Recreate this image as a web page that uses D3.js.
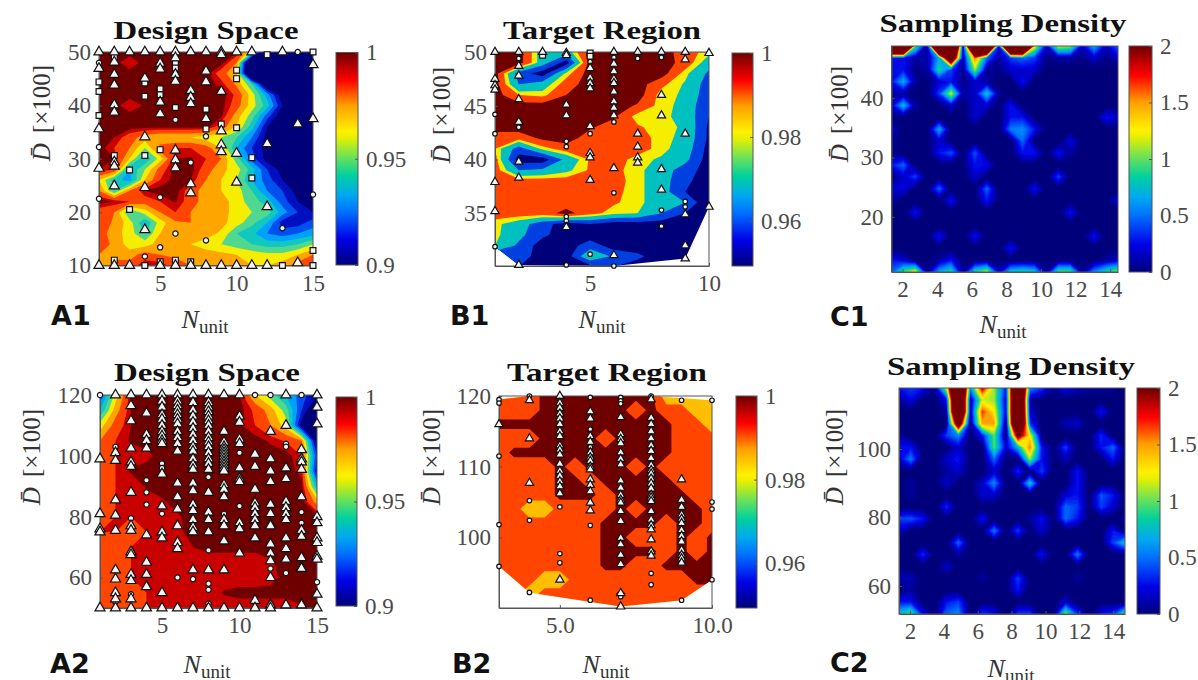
<!DOCTYPE html>
<html>
<head>
<meta charset="utf-8">
<script src="https://cdn.jsdelivr.net/npm/d3@7"></script>
<style>
  html, body { margin: 0; background: #fff; }
  text { font-family: "Liberation Serif", serif; }
</style>
</head>
<body>
<svg id="chart" width="1198" height="680"></svg>
<script>
// sampled fields, rows run from the top of the plot (largest D) down, values x100
const a1N = [1, 2, 3, 4, 5, 6, 7, 8, 9, 10, 11, 12, 13, 14, 15];
const a1D = [50, 48, 46, 44, 42, 40, 38, 36, 34, 32, 30, 28, 26, 24, 22, 20, 18, 16, 14, 12, 10];
const a1Values = [
  [99.8, 99.8, 99.8, 99.8, 99.8, 99.8, 99.8, 99.8, 99.8, 99.6, 96, 88, 88, 88, 88],
  [99.8, 99.8, 99, 99.8, 99.8, 99.8, 99.8, 99.8, 99.8, 98, 86, 88, 88, 88, 88],
  [99.8, 99.8, 99.8, 99.8, 99.8, 99.8, 99.8, 99.8, 98.5, 97, 86, 88, 88, 88, 88],
  [99.8, 99.8, 99.8, 99.8, 99.8, 99.8, 99.8, 99.8, 99.3, 97.8, 95, 89, 88, 88, 88],
  [99.8, 99.8, 99.8, 99.8, 99.8, 99.8, 99.8, 99.8, 99.8, 98.8, 96.5, 93.5, 90, 88, 88],
  [99.8, 99.8, 99, 99.6, 99.8, 99.8, 99.8, 99.8, 99.8, 98.5, 96.5, 94.5, 91, 90, 88],
  [99.8, 99.8, 99.8, 99.8, 99.8, 99.8, 99.8, 99.8, 99.6, 97.5, 95.5, 92.5, 90, 88, 88],
  [99.8, 99.8, 99.8, 99.8, 99.8, 99.8, 99.8, 99.8, 98.5, 97, 94.5, 91, 90, 88, 88],
  [99.8, 99.5, 98.5, 97.5, 97, 97, 97, 96.5, 96, 95, 93, 90.5, 90, 88, 88],
  [99.8, 99, 98, 96, 98.5, 99, 99, 98.5, 97, 94, 92, 90.5, 90, 88, 88],
  [99.8, 99.5, 97, 94, 96.5, 99.5, 99.6, 99, 98, 95.5, 92.5, 90.5, 90, 88, 88],
  [99.5, 99, 94, 96, 98.5, 99.8, 99.8, 98.5, 97.3, 96.5, 94.5, 92, 90.5, 90, 88],
  [97, 94.5, 93.5, 97, 99, 99.8, 99.5, 98, 97, 96, 94, 92.5, 91, 90, 88],
  [98, 95, 98, 99.5, 99.8, 99.8, 98.5, 97.5, 97, 96.5, 95, 93, 92, 90.5, 90],
  [99.8, 99.5, 99, 98.5, 99, 99.6, 98.5, 97.5, 97.5, 96.5, 95.5, 94.5, 92.5, 91, 90.5],
  [98.5, 98, 95, 96.5, 98, 99, 98, 97.5, 97.5, 96.5, 96, 95.5, 93.5, 92, 91],
  [98.8, 97.8, 96.5, 94, 96.5, 97.8, 98, 97.5, 97.3, 96.5, 95.3, 94, 91.5, 91.5, 92.5],
  [98.5, 97.5, 96.5, 95, 97, 97.6, 97.5, 97.5, 96.8, 95, 94.3, 93, 92.5, 93, 93.5],
  [98.5, 97.8, 96.5, 96.5, 97.5, 97.5, 97, 96.5, 96, 95.5, 95, 94.5, 94.5, 95, 96],
  [98, 97.6, 97.5, 98.5, 98, 97.8, 97.5, 97.5, 97.3, 97, 96.6, 96.3, 96.3, 97, 98],
  [97, 98.5, 98.5, 99.5, 99.5, 98.5, 98, 97.5, 97.5, 97.5, 97, 97, 97.5, 98.5, 98.5]
];
const a1Triangles = [
  [1, [50, 46.9, 35.6, 28.2, 10]], [2, [50, 48.1, 45.8, 43.8, 40.1, 38.7, 29.4, 28.6, 24.9, 10]], [3, [50, 10]],
  [4, [50, 45.1, 34.1, 24.6, 16.7]], [5, [50, 47.9, 46.8, 40.6, 38.4, 10]],
  [6, [50, 48.9, 45.8, 44.5, 31.6, 29.8, 28.3, 10]], [7, [50, 42.8, 41.5, 40.3, 25.3, 23.6, 10]],
  [8, [50, 46.4, 44.4, 37.5, 10]], [9, [50, 49.5, 42.6, 35.2, 32.6, 31.3, 10]], [10, [50, 31, 25.6, 10]],
  [11, [50, 10]], [12, [32.8, 21, 10]], [13, [50]], [14, [36.5, 10.5]], [15, [47.6, 37.5]]
];
const a1Squares = [
  [1, [44.4, 42.6, 38.1]], [2, [49, 30.6, 11]], [3, [27.9, 20.5]], [4, [44.2, 41.7, 30.6, 10]],
  [5, [43.1, 42, 31.7, 10.7]], [6, [47.9, 47, 39.6, 11]], [7, [10.7]], [8, [39.3, 35.6]], [9, [36.5]],
  [10, [46.6, 45, 35.8]], [11, [30.2, 26.4]], [12, [49.5]], [13, [10]], [15, [50, 12.8, 10]]
];
const a1Circles = [
  [1, [48, 32.2, 22.5]], [4, [11.7]], [5, [22.8, 13.4]], [6, [37.3, 16]], [7, [29.3]],
  [8, [34.2, 14.7]], [13, [17]], [14, [50]], [15, [23.3]]
];

const b1N = [1, 2, 3, 4, 5, 6, 7, 8, 9, 10];
const b1D = [50, 49, 48, 47, 46, 45, 44, 43, 42, 41, 40, 39, 38, 37, 36, 35, 34, 33, 32, 31, 30];
const b1Values = [
  [99.7, 99.7, 97.5, 97.5, 99.7, 99.7, 99.7, 99.7, 98.9, 98.2],
  [99.7, 99.7, 97.5, 95.5, 99.7, 99.7, 99.7, 99.7, 99, 97.5],
  [99.7, 96.5, 95.5, 98.2, 99.7, 99.7, 99.7, 99.7, 98.2, 96.8],
  [99.7, 97, 97.5, 98.9, 99.7, 99.7, 99.7, 98.7, 97.9, 96.5],
  [99.7, 98.5, 98.3, 99.3, 99.7, 99.7, 99.7, 98.2, 97.9, 96.3],
  [99.7, 99.7, 99.7, 99.7, 99.7, 99.7, 99.2, 98.2, 97.8, 96],
  [99.7, 99.7, 99.7, 99.7, 99.7, 99.4, 98.2, 98.2, 97.7, 96],
  [99.7, 99.7, 99.7, 99.7, 99.4, 98.9, 98.6, 98.2, 97.9, 95.8],
  [98.8, 98.8, 99.5, 99.7, 98.9, 98.9, 98.9, 98.2, 97.8, 95.8],
  [98.5, 96.5, 98.2, 98.9, 98.9, 98.9, 98.9, 98.2, 97.6, 95.6],
  [98.8, 95.5, 95.5, 97.3, 98.6, 98.9, 98.2, 97.9, 97.3, 95.5],
  [98.9, 97, 97.2, 97.8, 98.6, 98.7, 98.2, 97.5, 96.5, 95.5],
  [98.9, 98.9, 98.9, 98.9, 98.9, 98.8, 98.2, 97.5, 96.2, 95.5],
  [98.9, 98.9, 98.9, 98.9, 98.9, 98.7, 98.2, 97.5, 96, 95],
  [98.9, 98.9, 98.9, 98.9, 98.9, 98.6, 98.2, 97.5, 97, 95],
  [98.9, 98.9, 98.9, 99.6, 98.8, 98.2, 98, 97, 96, 95],
  [98.2, 97.5, 96.4, 95.5, 96, 95.5, 95.5, 95.5, 95.5, 95],
  [98.2, 97.3, 96.2, 95.5, 95.5, 95.5, 95.5, 95.5, 95.5, 95],
  [98, 96.8, 95.5, 95.5, 96.5, 95.5, 95.5, 95.5, 95.5, 95],
  [96, 96.5, 95.5, 95.5, 98, 96.8, 96.2, 95.5, 95.5, 95],
  [97, 96, 95.5, 95.5, 95.5, 96, 95.5, 95.5, 95.5, 95]
];
const b1Triangles = [
  [1, [50, 47.5, 46.9, 46.5, 37.9, 35.2]], [2, [50, 48.7, 47.8, 45.6, 43.5, 39.8, 38.3, 30.2]], [3, [50]],
  [4, [49.9, 49.7, 45.1, 44.1, 33.7]], [5, [48.5, 47.6, 47.1, 46.6, 43.1, 40.6, 40.2, 38.1]],
  [6, [50, 48.9, 48.2, 47.5, 47.1, 46.3, 45.4, 44.8, 44.1, 39.2, 31.1]], [7, [50, 42.4, 41.2, 40.2, 39.7]],
  [8, [50, 46, 44.1, 39.1, 37.2]], [9, [50, 49.3, 42.4, 34.9, 32, 30.8]], [10, [49.9, 35.6]]
];
const b1Squares = [[3, [49.7]], [5, [49.9, 49.6]]];
const b1Circles = [
  [1, [44.2, 42.4, 31.9]], [2, [49.4, 43]], [4, [41.7, 41.2, 34.7, 34.3, 30.2]], [5, [49.1, 42.4, 31.2]],
  [6, [49.5, 43.5, 36.9, 30.1]], [7, [49.4]], [8, [49.5, 35.3, 33.8]], [9, [36.1, 35.6]]
];

// density on a regular 20 x 20 lattice, cells above 2 saturate the colour bar
const c1Values = [
  [5, 5, 1, .1, 5, 5, .1, 5, 5, .3, 5, 5, 1.3, .2, 1.2, 1.1, .2, .7, .2, .5],
  [.3, .3, .1, .1, .7, 3, .1, 1.6, .5, .1, .4, .5, .4, .05, .1, .1, .05, .2, .05, .2],
  [.3, .3, .05, .1, .9, .4, .05, 1.1, .1, .05, .2, .2, .2, 0, 0, 0, 0, 0, 0, 0],
  [.3, .7, .1, 0, .2, .3, .05, .2, .1, 0, 0, .3, 0, 0, 0, 0, 0, 0, 0, 0],
  [.1, .1, 0, 0, .4, 1.2, .1, .2, .8, .1, 0, 0, 0, 0, 0, 0, 0, 0, 0, 0],
  [.2, .75, .1, 0, 0, .2, 0, .2, .2, 0, .3, 0, 0, 0, 0, 0, 0, 0, 0, 0],
  [.05, 0, 0, 0, 0, 0, 0, .2, 0, 0, .3, .3, 0, 0, 0, 0, 0, 0, .3, .2],
  [.2, 0, 0, 0, .7, 0, 0, 0, 0, 0, .55, .6, .3, 0, 0, 0, 0, 0, 0, 0],
  [.1, 0, 0, 0, .2, 0, 0, 0, 0, 0, 0, .5, 0, 0, 0, .25, 0, 0, 0, 0],
  [.05, 0, 0, 0, .3, .45, 0, .45, 0, 0, 0, .3, .3, 0, .3, .1, 0, 0, 0, 0],
  [.3, .5, 0, 0, 0, 0, 0, .3, .25, 0, 0, 0, 0, 0, 0, 0, 0, 0, 0, 0],
  [0, .2, .4, 0, 0, 0, 0, .2, 0, 0, 0, 0, 0, 0, .4, 0, 0, 0, 0, 0],
  [.2, .25, 0, 0, .5, 0, 0, 0, .5, 0, 0, 0, .3, 0, 0, 0, 0, 0, 0, 0],
  [.1, 0, 0, 0, 0, .3, 0, 0, .3, 0, 0, 0, 0, 0, 0, 0, 0, 0, 0, .25],
  [0, 0, .3, 0, 0, 0, 0, 0, 0, 0, 0, 0, 0, 0, 0, .3, 0, 0, 0, 0],
  [0, 0, 0, 0, 0, 0, 0, 0, 0, 0, 0, 0, 0, 0, 0, 0, 0, 0, 0, 0],
  [0, 0, 0, 0, .3, 0, 0, .3, 0, 0, 0, 0, 0, 0, 0, 0, 0, .3, 0, 0],
  [0, 0, 0, 0, 0, 0, 0, 0, 0, 0, .3, 0, 0, 0, 0, 0, 0, 0, 0, 0],
  [.3, .2, 0, 0, .1, .3, 0, 0, 0, 0, 0, 0, 0, 0, 0, 0, 0, 0, .1, .2],
  [.5, 1, 1.3, .1, .7, .9, .1, .9, 1.2, .2, .8, .9, .8, .1, 1, 1, .1, .6, .9, 1.1]
];

const a2N = [1, 2, 3, 4, 5, 6, 7, 8, 9, 10, 11, 12, 13, 14, 15];
const a2D = [120, 115, 110, 105, 100, 95, 90, 85, 80, 75, 70, 65, 60, 55, 50];
const a2Values = [
  [92, 96.5, 99.5, 99.8, 99.8, 99.8, 99.8, 99.8, 99.8, 99.5, 97, 95.5, 94, 92.5, 91],
  [94, 97.5, 99.5, 99.8, 99.8, 99.8, 99.8, 99.8, 99.8, 99.8, 98.8, 97.5, 95.5, 92, 89],
  [96.5, 98.5, 99.5, 99.8, 99.8, 99.8, 99.8, 99.8, 99.8, 99.6, 99, 98, 96.5, 90.5, 89],
  [98, 99, 99.6, 99.8, 99.8, 99.8, 99.8, 99.8, 99.8, 99.8, 99.8, 99.4, 98.9, 98, 90],
  [98.8, 99, 99.1, 99.3, 99.8, 99.8, 99.8, 99.8, 99.8, 99.8, 99.8, 99.8, 99.8, 99, 92],
  [98.7, 99, 99.6, 99.8, 99.8, 99.8, 99.8, 99.8, 99.8, 99.8, 99.8, 99.8, 99.8, 99.3, 91],
  [98.6, 99, 99, 99.6, 99.8, 99.8, 99.8, 99.8, 99.8, 99.8, 99.8, 99.8, 99.8, 99.8, 94],
  [98.7, 99, 99, 99.1, 99.4, 99.8, 99.8, 99.8, 99.8, 99.8, 99.8, 99.8, 99.8, 99.8, 97.5],
  [98.5, 99, 99, 99, 99.1, 99.4, 99.8, 99.8, 99.8, 99.8, 99.8, 99.8, 99.8, 99.8, 99.8],
  [99, 99, 98.9, 99, 99, 99.3, 99.8, 99.8, 99.8, 99.8, 99.8, 99.8, 99.8, 99.8, 99.8],
  [98.3, 98.5, 99, 99, 99, 99, 99.5, 99.8, 99.8, 99.8, 99.8, 99.8, 99.8, 99.8, 99.8],
  [98.3, 98.5, 99, 99, 99, 99, 99, 99, 99, 99, 99, 99.4, 99.8, 99.8, 99.8],
  [98.3, 98.5, 99, 99, 99, 99, 99, 99, 99, 99, 99, 99.2, 99.8, 99.8, 99.8],
  [98.3, 98.6, 98.7, 99, 99, 99, 99, 99, 99.6, 99.8, 99.8, 99.8, 99.8, 99.8, 99.8],
  [98.3, 98.5, 98.5, 99, 99, 99, 99, 99, 99, 99, 99, 99, 99, 99.4, 99.6]
];
const a2Triangles = [
  [1, [99, 81, 76, 75, 50]],
  [2, [120, 101, 98.5, 85.5, 80.5, 75.5, 62.5, 59.5, 55, 53, 50]],
  [3, [120, 116.5, 111.5, 102.5, 98, 96.5, 88, 77, 75.5, 68.5, 67.5, 61, 59, 53, 50]],
  [4, [120, 114, 107, 105, 102.5, 74, 65, 61, 57, 50]],
  [5, [120, 118, 116, 113.5, 112, 110, 108, 106.5, 105, 104, 94, 83.5, 75, 73, 55, 50]],
  [6, [120, 118, 116.5, 115, 113.5, 112, 110.5, 108, 106, 104, 101.5, 91, 86.5, 82.5, 77, 71.5, 69.5, 50]],
  [7, [120, 117.5, 115, 113, 111, 109, 107, 105, 103, 101.5, 99, 97, 95.5, 91, 88.5, 84, 82, 79, 76.5, 75, 62.5, 50]],
  [8, [120, 117.5, 116, 114.5, 113, 111.5, 110, 108, 106, 104.5, 103, 101, 99, 97.5, 95.5, 88, 81.5, 79, 75, 62.5, 50]],
  [9, [120, 108, 104.5, 103, 102, 101, 100, 99, 98, 97, 96, 95, 90.5, 89, 86.5, 79, 77, 72, 62.5, 50]],
  [10, [120, 113, 111, 105.5, 104, 96, 92.5, 91.5, 78, 76, 68, 50]],
  [11, [100.5, 96.5, 89, 84.5, 83, 81, 79, 77, 73, 52.5, 50]],
  [12, [108, 99, 95, 91.5, 84, 81, 77.5, 77, 71, 68, 65.5, 60, 51, 50]],
  [13, [120, 110, 96, 92.5, 85, 83, 81, 79, 73, 69.5, 66, 51]],
  [14, [102, 99, 98, 95.5, 86.5, 75.5, 73.5, 66.5, 63.5, 63, 51]],
  [15, [120, 116, 110.5, 80, 78, 73, 71.5, 67, 66, 54.5, 50]]
];
const a2Squares = [];
const a2Circles = [
  [1, [120]], [2, [103, 52]], [3, [79.5, 54.5]], [4, [92, 88, 84]], [5, [97.5, 96, 81]], [6, [60]],
  [7, [59.5]], [8, [93, 69, 58, 56, 51.5]], [9, [81]], [10, [101, 83.5]], [11, [120]], [12, [120, 63]],
  [13, [104, 103, 61.5]], [14, [120, 81.5, 78]], [15, [58.5]]
];

const b2N = [3, 3.5, 4, 4.5, 5, 5.5, 6, 6.5, 7, 7.5, 8, 8.5, 9, 9.5, 10];
const b2D = [120, 118, 116, 114, 112, 110, 108, 106, 104, 102, 100, 98, 96, 94, 92, 90];
const b2Values = [
  [98.8, 98.8, 98.8, 99.7, 99.7, 99.7, 99.7, 99.7, 99.7, 99.7, 99.7, 97.8, 97.8, 97.8, 97.8],
  [98.8, 98.8, 98.8, 99.7, 99.7, 99.7, 99.7, 99.7, 99.7, 98.8, 99.7, 98.8, 98.8, 97.8, 97.8],
  [99.7, 99.7, 99.7, 99.7, 99.7, 99.7, 99.7, 99.7, 99.7, 99.7, 99.7, 99.7, 98.8, 98.8, 97.8],
  [98.8, 98.8, 98.8, 99.7, 99.7, 99.7, 99.7, 98.8, 99.7, 99.7, 99.7, 99.7, 98.8, 98.8, 98.8],
  [98.8, 99.7, 99.7, 99.7, 99.7, 99.7, 99.7, 99.7, 99.7, 99.7, 99.7, 99.7, 98.8, 98.8, 98.8],
  [98.8, 98.8, 98.8, 98.8, 99.7, 98.8, 99.7, 99.7, 99.7, 98.8, 99.7, 98.8, 98.8, 98.8, 98.8],
  [98.8, 98.8, 98.8, 98.8, 99.7, 99.7, 98.8, 99.7, 99.7, 99.7, 99.7, 99.7, 98.8, 98.8, 98.8],
  [98.8, 98.8, 98.8, 98.8, 99.7, 99.7, 99.7, 98.8, 99.7, 99.7, 99.7, 99.7, 99.7, 98.8, 98.8],
  [98.8, 98.8, 97.8, 97.8, 98.8, 98.8, 98.8, 98.8, 99.7, 98.8, 99.7, 99.7, 99.7, 99.7, 98.8],
  [98.8, 98.8, 98.8, 98.8, 98.8, 98.8, 98.8, 99.7, 99.7, 99.7, 99.7, 98.8, 99.7, 99.7, 98.8],
  [98.8, 98.8, 98.8, 98.8, 98.8, 98.8, 98.8, 99.7, 99.7, 98.8, 98.8, 98.8, 99.7, 98.8, 99.7],
  [98.8, 98.8, 98.8, 98.8, 98.8, 98.8, 98.8, 99.7, 99.7, 99.7, 99.7, 98.8, 99.7, 98.8, 99.7],
  [98.8, 98.8, 98.8, 98.8, 98.8, 98.8, 98.8, 99.7, 99.7, 98.8, 98.8, 99.7, 99.7, 99.7, 99.7],
  [98.8, 98.8, 98.8, 97.8, 97.8, 98.8, 98.8, 98.8, 98.8, 98.8, 98.8, 98.8, 98.8, 99.7, 99.7],
  [98.8, 98.8, 97.8, 98.8, 98.8, 98.8, 98.8, 98.8, 99.7, 98.8, 98.8, 98.8, 98.8, 98.8, 98.8],
  [98.8, 98.8, 98.8, 98.8, 98.8, 98.8, 98.8, 98.8, 98.8, 98.8, 98.8, 98.8, 98.8, 98.8, 98.8]
];
const b2Triangles = [
  [3, [116]], [4, [119.4, 114, 107.7]],
  [5, [120, 119, 118.3, 117.5, 116.8, 116, 115, 114.3, 113, 112.4, 111.7, 110.4, 109.4, 108.7, 107.9, 107.2, 106.2, 94]],
  [6, [117.8, 116.8, 114.3, 113.5, 112, 111.3, 110.8, 110, 109.6, 108.2, 107.4, 106.5, 104.9, 103.8]],
  [7, [117, 114.6, 113.9, 113.3, 112, 111.1, 110.3, 108, 107, 106, 105.3, 104.9, 103.7, 102.3, 99.9, 99, 97.5, 96.2, 92.1, 90.2]],
  [8, [119.5, 116.9, 116, 115, 114, 113, 112.2, 111.2, 110.2, 109.5, 109, 108.3, 107.6, 106.9, 106, 105.6, 105.1, 103.7, 102.5, 101.7, 101.1, 99.7, 98, 97.4]],
  [9, [108.2, 105.3, 104.3, 103.2, 102.6, 102, 101, 100.2, 99.4, 98.2, 97.5, 97, 96.4]]
];
const b2Squares = [];
const b2Circles = [
  [3, [119.5, 119, 111.5, 101.8, 95.9]], [4, [120, 105.2, 102.4, 92.2]], [5, [104.3, 97.7, 96.4]],
  [6, [119.8, 115.3, 112.8, 101.7, 91.1]], [7, [119.8, 119.3, 118.9, 91.6]], [8, [120, 94.9, 93.3]],
  [9, [119.4, 91.1]], [10, [119.4, 105, 104, 94]]
];

const c2Values = [
  [.3, .4, .3, .1, 1.2, 4, .6, 1.9, 1.1, .3, 4, .6, .4, .1, .3, .15, .1, .1, .1, 0],
  [.1, .25, 0, 0, .3, 4, .1, 1.2, 1.1, .2, 4, .1, 0, 0, 0, 0, 0, 0, 0, 0],
  [0, 0, 0, 0, .1, 4, .1, 1.7, 1.3, .2, 4, .2, 0, 0, 0, 0, 0, .3, 0, 0],
  [0, 0, 0, 0, 0, 2.5, 0, 1.5, 1.5, 0, 4, .4, 0, 0, .15, .2, 0, 0, 0, 0],
  [.1, 0, 0, 0, .4, .6, 0, .3, 1, 0, 2.2, 1.3, 0, 0, 0, 0, 0, .35, 0, 0],
  [.3, .3, 0, 0, 0, .2, 0, 0, 1, .2, .7, 1.6, .3, 0, .4, 0, 0, .3, .5, 0],
  [.2, .55, 0, 0, .2, .3, 0, 0, .5, 0, 0, 1.1, .3, 0, .15, 0, 0, 0, .3, 0],
  [0, 0, 0, 0, .1, .2, 0, 0, .2, 0, .35, 0, .4, 0, 0, .3, 0, 0, 0, 0],
  [0, .1, 0, 0, .2, 0, 0, .2, .6, 0, 0, .8, 0, 0, 0, .3, 0, 0, 0, 0],
  [0, .1, 0, 0, 0, 0, 0, .2, .2, 0, 0, 0, 0, 0, .2, .3, 0, .45, .3, 0],
  [0, 0, 0, 0, .35, 0, 0, 0, 0, 0, 0, 0, 0, 0, .5, .4, 0, .4, .2, 0],
  [.4, .45, .3, 0, 0, 0, 0, .3, 0, 0, 0, .1, .3, 0, .5, .3, 0, 0, 0, .1],
  [.2, 0, 0, 0, 0, 0, 0, 0, .55, 0, .4, 0, .2, 0, 0, 0, 0, 0, .3, 0],
  [0, 0, 0, 0, 0, .5, 0, 0, 0, 0, 0, 0, 0, 0, 0, 0, 0, 0, .4, .8],
  [0, 0, .35, 0, 0, .1, 0, 0, 0, 0, 0, 0, .3, 0, 0, .55, 0, 0, 0, 0],
  [0, 0, 0, 0, .2, 0, 0, 0, 0, 0, 0, 0, 0, 0, 0, 0, 0, 0, 0, 0],
  [.15, .15, 0, 0, 0, 0, 0, .1, 0, 0, .4, 0, 0, 0, 0, .1, 0, 0, 0, 0],
  [0, .1, 0, 0, 0, 0, 0, 0, 0, 0, .3, 0, 0, 0, 0, 0, 0, 0, 0, 0],
  [.3, .3, 0, 0, .3, .4, 0, 0, 0, 0, 0, 0, 0, 0, .2, 0, 0, 0, 0, 0],
  [.8, 1, .3, 0, .5, .6, 0, .4, .3, 0, .4, .4, 0, 0, 1.1, .4, 0, .3, .4, 1]
];

const titles = ['Design Space', 'Target Region', 'Sampling Density'];

const jetStops = [
  [0, '#00007a'], [.12, '#0000e6'], [.25, '#0070ff'], [.33, '#00a8f0'], [.42, '#00d0a0'], [.5, '#60e060'],
  [.6, '#e8f000'], [.63, '#fff000'], [.75, '#ffa000'], [.87, '#ff0000'], [1, '#6e0000']
];
const jet = d3.scaleLinear().domain(jetStops.map(d => d[0])).range(jetStops.map(d => d[1]));

const wideLevels = [91, 92, 93, 94, 95, 96, 97, 98, 99, 99.5];
const wideColors = ['#00007a', '#0010c0', '#0050f0', '#00a0ff', '#10c8c0', '#50d890', '#f5ee00', '#ffa500', '#ff4500', '#c80000', '#6e0000'];
const b1Levels = [96, 97, 98, 98.5, 99.3];
const b1Colors = ['#00007a', '#0040e0', '#00c0c0', '#f5ee00', '#ff4500', '#6e0000'];
const b2Levels = [98.4, 99.4];
const b2Colors = ['#ffbf00', '#ff4500', '#6e0000'];
const densityLevels = d3.range(.02, 2.01, .04);

const panels = [
  { label: 'A1', title: titles[0], box: [99, 313, 52, 265.5], xDomain: [1, 15], yDomain: [10, 50], xTicks: [5, 10, 15], yTicks: [10, 20, 30, 40, 50],
    N: a1N, D: a1D, values: a1Values, levels: wideLevels, colors: wideColors, tri: a1Triangles, sq: a1Squares, circ: a1Circles,
    bar: [336, 358, 52.5, 265], barDomain: [.9, 1], barTicks: [.9, .95, 1],
    titleAt: [206, 39, 185], xLabelAt: [205, 328], yLabelAt: [50, 113], tagAt: [51, 325] },
  { label: 'B1', title: titles[1], box: [495, 709, 52, 266], xDomain: [1, 10], yDomain: [30.1, 50], xTicks: [5, 10], yTicks: [35, 40, 45, 50],
    N: b1N, D: b1D, values: b1Values, levels: b1Levels, colors: b1Colors, tri: b1Triangles, sq: b1Squares, circ: b1Circles, hull: true, small: true,
    bar: [732, 753, 53, 266], barDomain: [.9493, 1], barTicks: [.96, .98, 1],
    titleAt: [602, 39, 198], xLabelAt: [602, 328], yLabelAt: [450, 115], tagAt: [450, 325] },
  { label: 'C1', title: titles[2], box: [891.5, 1118, 46, 272], xDomain: [1.36, 14.45], yDomain: [10.7, 48.8], xTicks: [2, 4, 6, 8, 10, 12, 14], yTicks: [20, 30, 40],
    values: c1Values, levels: densityLevels, density: true,
    bar: [1129, 1152, 46, 272], barDomain: [0, 2], barTicks: [0, .5, 1, 1.5, 2],
    titleAt: [1003, 32, 247], xLabelAt: [1003, 333], yLabelAt: [848, 114], tagAt: [830, 326] },
  { label: 'A2', title: titles[0], box: [100, 317, 395, 608], xDomain: [1, 15], yDomain: [50, 120], xTicks: [5, 10, 15], yTicks: [60, 80, 100, 120],
    N: a2N, D: a2D, values: a2Values, levels: wideLevels, colors: wideColors, tri: a2Triangles, sq: a2Squares, circ: a2Circles,
    bar: [336, 357, 397, 606], barDomain: [.9, 1], barTicks: [.9, .95, 1],
    titleAt: [207, 381, 186], xLabelAt: [207, 673], yLabelAt: [40, 457], tagAt: [50, 673] },
  { label: 'B2', title: titles[1], box: [499, 712, 396, 608], xDomain: [3, 10], yDomain: [90, 120], xTicks: [5, 10], yTicks: [100, 110, 120],
    N: b2N, D: b2D, values: b2Values, levels: b2Levels, colors: b2Colors, tri: b2Triangles, sq: b2Squares, circ: b2Circles, hull: true, small: true,
    bar: [736, 757, 396, 608], barDomain: [.9493, 1], barTicks: [.96, .98, 1],
    titleAt: [607, 381, 200], xLabelAt: [606, 673], yLabelAt: [440, 457], tagAt: [452, 673] },
  { label: 'C2', title: titles[2], box: [899, 1125, 388, 614], xDomain: [1.35, 14.7], yDomain: [51.8, 117.8], xTicks: [2, 4, 6, 8, 10, 12, 14], yTicks: [60, 80, 100],
    values: c2Values, levels: densityLevels, density: true,
    bar: [1137, 1160, 388, 614], barDomain: [0, 2], barTicks: [0, .5, 1, 1.5, 2],
    titleAt: [1011, 375, 248], xLabelAt: [1011, 677], yLabelAt: [843, 457], tagAt: [830, 672] }
];

const svg = d3.select('#chart');
const defs = svg.append('defs');
const grad = defs.append('linearGradient').attr('id', 'jet').attr('x1', 0).attr('x2', 0).attr('y1', 1).attr('y2', 0);
jetStops.forEach(d => grad.append('stop').attr('offset', d[0]).attr('stop-color', d[1]));

const axisColor = '#555';
const triangle = d3.symbol().type(d3.symbolTriangle);
const square = d3.symbol().type(d3.symbolSquare);
const circle = d3.symbol().type(d3.symbolCircle);

function flatten(columns) {
  return columns.flatMap(([n, ds]) => ds.map(d => [n, d]));
}

function drawField(g, p, x, y) {
  const rows = p.values.length;
  const cols = p.values[0].length;
  const gridX = p.N || d3.range(cols).map(d3.scaleLinear([0, cols - 1], p.xDomain));
  const gridY = p.D || d3.range(rows).map(d3.scaleLinear([0, rows - 1], [p.yDomain[1], p.yDomain[0]]));
  const colX = d3.scaleLinear(d3.range(cols), gridX).clamp(true);
  const rowY = d3.scaleLinear(d3.range(rows), gridY).clamp(true);

  const project = d3.geoTransform({
    point(px, py) { this.stream.point(x(colX(px - .5)), y(rowY(py - .5))); }
  });
  const path = d3.geoPath(project);
  const contours = d3.contours().size([cols, rows]).thresholds(p.levels)(p.values.flat());
  const fill = p.density ? (i => jet(p.levels[i] / 2)) : (i => p.colors[i + 1]);

  g.append('rect')
    .attr('x', x.range()[0]).attr('y', y.range()[1])
    .attr('width', x.range()[1] - x.range()[0]).attr('height', y.range()[0] - y.range()[1])
    .attr('fill', p.density ? jet(0) : p.colors[0]);

  g.selectAll('path.band')
    .data(contours)
    .join('path')
    .attr('class', 'band')
    .attr('d', path)
    .attr('fill', (d, i) => fill(i));
}

function drawMarkers(g, p, x, y) {
  const sets = [[p.circ, circle, p.small ? 16 : 22], [p.sq, square, 34], [p.tri, triangle, p.small ? 30 : 44]];
  sets.forEach(([columns, symbol, size]) => {
    g.selectAll(null)
      .data(flatten(columns))
      .join('path')
      .attr('d', symbol.size(size))
      .attr('transform', d => `translate(${x(d[0])},${y(d[1])})`)
      .attr('fill', '#f4f4f4')
      .attr('stroke', '#111')
      .attr('stroke-width', 1.2);
  });
}

function styleAxis(g) {
  g.selectAll('.domain').attr('stroke', axisColor);
  g.selectAll('.tick line').attr('stroke', axisColor);
  g.selectAll('text').attr('fill', '#4a4a4a').style('font-size', '23px').style('font-family', '"Liberation Serif", serif');
}

panels.forEach((p, idx) => {
  const [x0, x1, y0, y1] = p.box;
  const x = d3.scaleLinear(p.xDomain, [x0, x1]);
  const y = d3.scaleLinear(p.yDomain, [y1, y0]);
  const g = svg.append('g');

  const field = g.append('g');
  if (p.hull) {
    const hull = d3.polygonHull(flatten(p.tri).concat(flatten(p.circ), flatten(p.sq)).map(d => [x(d[0]), y(d[1])]));
    defs.append('clipPath').attr('id', 'hull' + idx).append('polygon').attr('points', hull.join(' '));
    field.attr('clip-path', `url(#hull${idx})`);
  }
  drawField(field, p, x, y);

  g.append('rect')
    .attr('x', x0).attr('y', y0).attr('width', x1 - x0).attr('height', y1 - y0)
    .attr('fill', 'none').attr('stroke', axisColor);

  g.append('g').attr('transform', `translate(0,${y1})`)
    .call(d3.axisBottom(x).tickValues(p.xTicks).tickSize(-3).tickSizeOuter(0).tickPadding(9))
    .call(styleAxis);
  g.append('g').attr('transform', `translate(${x0},0)`)
    .call(d3.axisLeft(y).tickValues(p.yTicks).tickSize(-3).tickSizeOuter(0).tickPadding(8))
    .call(styleAxis);

  if (p.tri) drawMarkers(g, p, x, y);

  // colour bar
  const [bx0, bx1, by0, by1] = p.bar;
  const barScale = d3.scaleLinear(p.barDomain, [by1, by0]);
  g.append('rect')
    .attr('x', bx0).attr('y', by0).attr('width', bx1 - bx0).attr('height', by1 - by0)
    .attr('fill', 'url(#jet)').attr('stroke', axisColor);
  g.append('g').attr('transform', `translate(${bx1},0)`)
    .call(d3.axisRight(barScale).tickValues(p.barTicks).tickFormat(d => d).tickSize(-3).tickSizeOuter(0).tickPadding(8))
    .call(styleAxis)
    .call(a => a.select('.domain').remove());

  // texts
  g.append('text')
    .attr('x', p.titleAt[0]).attr('y', p.titleAt[1])
    .attr('text-anchor', 'middle')
    .attr('textLength', p.titleAt[2]).attr('lengthAdjust', 'spacingAndGlyphs')
    .attr('fill', '#111').style('font-size', '26px').style('font-weight', 'bold')
    .text(p.title);

  const xLabel = g.append('text')
    .attr('x', p.xLabelAt[0]).attr('y', p.xLabelAt[1])
    .attr('text-anchor', 'middle').attr('fill', '#333');
  xLabel.append('tspan').style('font-size', '26px').style('font-style', 'italic').text('N');
  xLabel.append('tspan').attr('dy', 5).style('font-size', '19px').text('unit');

  const yLabel = g.append('text')
    .attr('transform', `translate(${p.yLabelAt[0]},${p.yLabelAt[1]}) rotate(-90)`)
    .attr('text-anchor', 'middle').attr('fill', '#333').style('font-size', '25px');
  yLabel.append('tspan').style('font-style', 'italic').text('D\u0304');
  yLabel.append('tspan').attr('dx', 10).text('[×100]');

  g.append('text')
    .attr('x', p.tagAt[0]).attr('y', p.tagAt[1])
    .attr('fill', '#111').style('font-size', '27px').style('font-weight', 'bold')
    .style('font-family', '"DejaVu Sans", sans-serif')
    .text(p.label);
});
</script>
</body>
</html>
